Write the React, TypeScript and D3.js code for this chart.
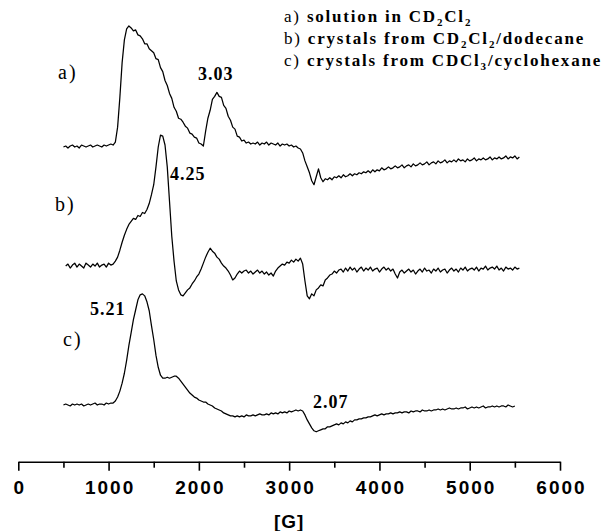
import React, { useEffect, useRef } from "react";
import * as d3 from "d3";

const W = 610;
const H = 531;

// Field axis
const majorTicks = [0, 1000, 2000, 3000, 4000, 5000, 6000];
const minorTicks = [500, 1500, 2500, 3500, 4500, 5500];
const axisTitle = "[G]";

// Spectra: intensity sampled every 25 G from each trace's start field
const fieldStep = 25;
const traceStarts = [500, 525, 500];
const traceOffsets = [320, 200, 60];
const traceLabels = ["a)", "b)", "c)"];

const specA = [
  0, 1, -1, 1, 2, 0, 1, -1, 2, 1, 0, 1, 2, 0, 1, 2, 1, 0, 2, 1, 2, 3, 2,
  5, 20, 50, 85, 108, 119, 122,
  120, 117, 118, 113, 112, 109, 104, 104, 99, 97, 95, 89, 88, 80, 76, 67, 62, 54, 49, 40,
  36, 29, 28, 25, 21, 19, 14, 13, 10, 9, 4, 3, 1,
  16, 29, 37, 48, 51, 55, 51, 50, 42, 39, 31, 27, 20, 18, 11, 10, 6, 7, 4, 5, 3, 4,
  3, 5, 2, 4, 3, 5, 2, 4, 3, 2, 4, 1, 3, 2, 3, 1, 2, 0, 1,
  -1, -2, -6, -14, -20, -26, -34, -38, -30, -22, -31, -35, -32, -33,
  -31, -33, -30, -31, -29, -31, -28, -30, -29, -27,
  -29, -27, -28, -26, -27, -25, -26, -24, -26, -23,
  -25, -23, -24, -21, -23, -22, -20, -22, -21, -19,
  -21, -20, -18, -21, -19, -18, -20, -17, -19, -18,
  -16, -18, -17, -15, -18, -16, -15, -17, -14, -16,
  -15, -13, -16, -14, -15, -13, -15, -12, -14, -13,
  -15, -12, -14, -13, -11, -14, -12, -13, -11, -13,
  -12, -10, -13, -11, -12, -10, -12, -11, -9, -12,
  -10, -11, -9, -12, -10,
];

const specB = [
  0, 2, -2, 1, 3, -1, 2, 0, -2, 3, 1, -1, 2, 0, 3, -1, 1, 2, -1, 3, 1, 2,
  5, 9, 16, 24, 31, 37, 42, 45, 48, 47, 51, 50, 54, 53, 57, 63, 72, 82, 100, 120, 132,
  131, 122, 100, 65, 30, 5, -15, -24, -29, -30, -27, -24, -22, -18, -15, -11, -8, -3, 3, 9, 14, 18,
  15, 13, 9, 7, 3, 0, -2, -5, -9, -14, -12, -8, -5, -7, -5,
  -4, -7, -5, -8, -6, -4, -7, -5, -8, -6, -9, -7,
  -10, -5, -2, 0, 2, 1, 4, 3, 6, 4, 7, 5, 8, 2,
  -15, -30, -33, -28, -30, -24, -22, -19, -20, -14, -12, -9, -8, -5, -7, -4,
  -3, -6, -2, -5, -1, -4, -2, -6, -3, -1, -5, -2, -4, -1, -5, -3, -2, -6, -3, -1,
  -4, -2, -5, -3, -8, -12, -6, -4, -7, -5, -3, -6, -4, -8, -5, -3, -6, -2, -5, -4,
  -7, -3, -5, -2, -6, -4, -3, -7, -4, -2, -5, -3, -6, -2, -4, -1, -5, -3, -2, -4,
  -1, -5, -2, -3, 0, -4, -2, -1, -3, 0, -4, -2, -5, -1, -3, -2, -4, -1, -3, -2,
];

const specC = [
  0, 1, 0, -1, 1, 0, 1, 0, 1, -1, 0, 1, 0, 1, 2, 0, 1, 1, 0, 2, 1, 2, 2,
  4, 8, 14, 22, 32, 45, 60, 73, 86, 96, 106, 111, 112, 110,
  104, 95, 80, 66, 50, 38, 30, 27, 27, 28, 27, 28, 29, 29,
  27, 24, 21, 18, 15, 12, 10, 8, 7, 5, 4, 3, 3, 1, 0, -1, -3, -4, -5, -6, -8, -9, -10, -11, -11, -12,
  -11, -12, -11, -12, -10, -11, -11, -10, -11, -10, -9, -10, -10, -9, -10, -8, -9, -8, -9, -7,
  -8, -7, -8, -6, -7, -6, -5, -6,
  -5, -6, -10, -15, -19, -23, -26, -27, -26, -25, -24, -24, -22, -22, -21, -20,
  -19, -20, -18, -19, -17, -18, -16, -17, -15, -15, -14, -14, -13, -13, -12, -12,
  -11, -10, -11, -10, -9, -10, -9, -9, -8, -9, -8, -8, -7, -8, -7, -7, -8, -6, -7, -6,
  -6, -7, -5, -6, -6, -5, -6, -5,
  -5, -4, -5, -4, -5, -4, -3, -4, -4, -3, -4, -3, -3, -2, -4, -3, -2, -3, -2, -3,
  -2, -1, -3, -2, -2, -1, -2, -1, -2, -1, -1, -2, 0, -1, -2, -1,
];

const spectra = [specA, specB, specC];

// Annotations
const peakTexts = ["3.03", "4.25", "5.21", "2.07"];
const legendLetters = ["a)", "b)", "c)"];

export default function App() {
  const axisRef = useRef<SVGGElement>(null);

  const x = d3.scaleLinear().domain([0, 6000]).range([18.3, 560]);
  const y = d3.scaleLinear().domain([60, 320]).range([405, 147]);
  const axisY = 461.7;

  const line = d3
    .line<[number, number]>()
    .x((d) => x(d[0]))
    .y((d) => y(d[1]));

  useEffect(() => {
    if (!axisRef.current) return;
    const g = d3.select(axisRef.current);
    g.selectAll("*").remove();
    const minor = g
      .append("g")
      .call(
        d3
          .axisBottom(x)
          .tickValues(minorTicks)
          .tickSize(6)
          .tickSizeOuter(0)
          .tickFormat(() => "")
      );
    minor.select(".domain").remove();
    const major = g.append("g").call(
      d3
        .axisBottom(x)
        .tickValues(majorTicks)
        .tickSize(9)
        .tickSizeOuter(0)
        .tickPadding(10)
        .tickFormat((d) => String(d))
    );
    g.selectAll("path.domain").attr("stroke", "#000").attr("stroke-width", 1.6);
    g.selectAll(".tick line").attr("stroke", "#000").attr("stroke-width", 1.6);
    major
      .selectAll(".tick text")
      .attr("fill", "#000")
      .attr("font-family", "'Liberation Sans', Arial, sans-serif")
      .attr("font-weight", "bold")
      .attr("font-size", 19)
      .attr("letter-spacing", 2)
      .attr("dx", 1);
    g.attr("font-family", null).attr("font-size", null);
  }, []);

  const serif = "'Liberation Serif', 'Times New Roman', serif";

  return (
    <svg
      width={W}
      height={H}
      style={{ position: "absolute", left: 0, top: 0, background: "#fff" }}
    >
      <rect width={W} height={H} fill="#fff" />
      {spectra.map((vals, i) => {
        const pts: [number, number][] = vals.map((v, j) => [
          traceStarts[i] + j * fieldStep,
          traceOffsets[i] + v,
        ]);
        return (
          <path
            key={i}
            d={line(pts) || ""}
            fill="none"
            stroke="#000"
            strokeWidth={1.25}
            strokeLinejoin="round"
          />
        );
      })}

      {/* trace labels */}
      <g fontFamily={serif} fontSize={20} fill="#000" letterSpacing={2}>
        <text x={58} y={79}>{traceLabels[0]}</text>
        <text x={55} y={211}>{traceLabels[1]}</text>
        <text x={63} y={346}>{traceLabels[2]}</text>
      </g>

      {/* peak g-values */}
      <g fontFamily={serif} fontSize={18} fontWeight="bold" fill="#000" letterSpacing={1}>
        <text x={198} y={80}>{peakTexts[0]}</text>
        <text x={170} y={180}>{peakTexts[1]}</text>
        <text x={90} y={315}>{peakTexts[2]}</text>
        <text x={313} y={408}>{peakTexts[3]}</text>
      </g>

      {/* legend */}
      <g fontFamily={serif} fontSize={17} fill="#000" letterSpacing={1.8}>
        <text x={284} y={22}>
          <tspan>{legendLetters[0]} </tspan>
          <tspan fontWeight="bold">solution in CD</tspan>
          <tspan fontWeight="bold" fontSize={11} dy={4}>2</tspan>
          <tspan fontWeight="bold" dy={-4}>Cl</tspan>
          <tspan fontWeight="bold" fontSize={11} dy={4}>2</tspan>
        </text>
        <text x={284} y={44}>
          <tspan>{legendLetters[1]} </tspan>
          <tspan fontWeight="bold">crystals from CD</tspan>
          <tspan fontWeight="bold" fontSize={11} dy={4}>2</tspan>
          <tspan fontWeight="bold" dy={-4}>Cl</tspan>
          <tspan fontWeight="bold" fontSize={11} dy={4}>2</tspan>
          <tspan fontWeight="bold" dy={-4}>/dodecane</tspan>
        </text>
        <text x={284} y={66}>
          <tspan>{legendLetters[2]} </tspan>
          <tspan fontWeight="bold">crystals from CDCl</tspan>
          <tspan fontWeight="bold" fontSize={11} dy={4}>3</tspan>
          <tspan fontWeight="bold" dy={-4}>/cyclohexane</tspan>
        </text>
      </g>

      <g ref={axisRef} transform={`translate(0,${axisY})`} />

      <text
        x={(x(0) + x(6000)) / 2}
        y={528}
        textAnchor="middle"
        fontFamily="'Liberation Sans', Arial, sans-serif"
        fontWeight="bold"
        fontSize={19}
        letterSpacing={1}
        fill="#000"
      >
        {axisTitle}
      </text>
    </svg>
  );
}
